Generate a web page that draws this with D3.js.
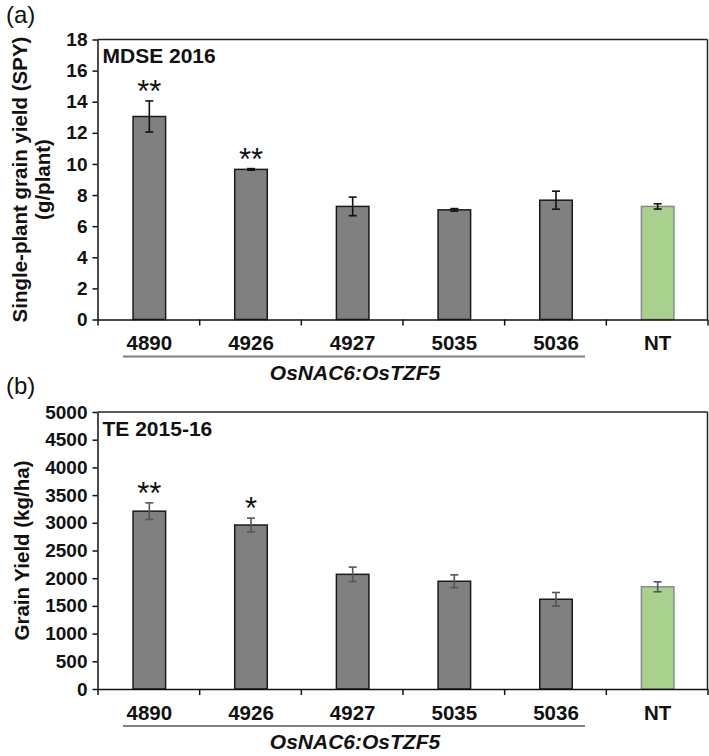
<!DOCTYPE html>
<html>
<head>
<meta charset="utf-8">
<script src="https://cdn.jsdelivr.net/npm/d3@7"></script>
<style>
  html, body { margin: 0; padding: 0; background: #fff; }
  svg { display: block; font-family: "Liberation Sans", Arial, Helvetica, sans-serif; }
</style>
</head>
<body>
<svg id="chart" width="709" height="756"></svg>
<script>
// ---------- data ----------
const categories = ["4890", "4926", "4927", "5035", "5036", "NT"];
const groupLabel = "OsNAC6:OsTZF5";

const spyValues = [13.05, 9.65, 7.27, 7.05, 7.67, 7.27];
const spyErrors = [1.0, 0.05, 0.6, 0.08, 0.58, 0.17];
const spySig = ["**", "**", "", "", "", ""];
const spyTicks = [0, 2, 4, 6, 8, 10, 12, 14, 16, 18];

const gyValues = [3210, 2960, 2070, 1945, 1620, 1845];
const gyErrors = [150, 125, 130, 115, 122, 90];
const gySig = ["**", "*", "", "", "", ""];
const gyTicks = [0, 500, 1000, 1500, 2000, 2500, 3000, 3500, 4000, 4500, 5000];

// ---------- drawing ----------
const svg = d3.select("#chart");
svg.append("rect").attr("width", 709).attr("height", 756).attr("fill", "#fff");

function drawPanel(cfg) {
  const left = 97.5, right = 707.5;
  const g = svg.append("g");
  const x = d3.scaleBand().domain(categories).range([left, right]).paddingInner(0).paddingOuter(0);
  const xi = d3.scaleLinear().domain([0, categories.length]).range([left, right]);
  const y = d3.scaleLinear().domain([0, cfg.max]).range([cfg.bottom, cfg.top]);
  const bw = x.bandwidth() * 0.32;
  const cx = d => x(d) + x.bandwidth() / 2 + 1;

  // frame: top & right
  g.append("line").attr("x1", left).attr("x2", right).attr("y1", cfg.top).attr("y2", cfg.top)
    .attr("stroke", "#222").attr("stroke-width", 1.5);
  g.append("line").attr("x1", right).attr("x2", right).attr("y1", cfg.top).attr("y2", cfg.bottom)
    .attr("stroke", "#222").attr("stroke-width", 1.5);

  // bars
  g.selectAll("rect.bar").data(categories).enter().append("rect")
    .attr("class", "bar")
    .attr("x", d => cx(d) - bw / 2)
    .attr("width", bw)
    .attr("y", (d, i) => y(cfg.values[i]))
    .attr("height", (d, i) => cfg.bottom - y(cfg.values[i]))
    .attr("fill", d => d === "NT" ? "#a9d18e" : "#808080")
    .attr("stroke", d => d === "NT" ? "#8a8a8a" : "#1a1a1a")
    .attr("stroke-width", 1.5);

  // error bars
  const eb = g.selectAll("g.err").data(categories).enter().append("g").attr("class", "err")
    .attr("stroke", cfg.errColor).attr("stroke-width", 1.6);
  eb.append("line")
    .attr("x1", d => cx(d)).attr("x2", d => cx(d))
    .attr("y1", (d, i) => y(cfg.values[i] + cfg.errors[i]))
    .attr("y2", (d, i) => y(cfg.values[i] - cfg.errors[i]));
  eb.append("line")
    .attr("x1", d => cx(d) - 4).attr("x2", d => cx(d) + 4)
    .attr("y1", (d, i) => y(cfg.values[i] + cfg.errors[i]))
    .attr("y2", (d, i) => y(cfg.values[i] + cfg.errors[i]));
  eb.append("line")
    .attr("x1", d => cx(d) - 4).attr("x2", d => cx(d) + 4)
    .attr("y1", (d, i) => y(cfg.values[i] - cfg.errors[i]))
    .attr("y2", (d, i) => y(cfg.values[i] - cfg.errors[i]));

  // significance stars
  g.selectAll("text.sig").data(categories).enter().append("text")
    .attr("class", "sig")
    .attr("x", d => cx(d))
    .attr("y", (d, i) => y(cfg.values[i] + cfg.errors[i]) + 1)
    .attr("text-anchor", "middle")
    .attr("font-size", 31)
    .attr("fill", "#111")
    .text((d, i) => cfg.sig[i]);

  // y axis
  const ya = g.append("g").attr("transform", `translate(${left},0)`)
    .call(d3.axisLeft(y).tickValues(cfg.ticks).tickFormat(d3.format("d"))
      .tickSize(5).tickPadding(5).tickSizeOuter(0));
  ya.select(".domain").attr("stroke", "#111").attr("stroke-width", 1.5);
  ya.selectAll(".tick line").attr("stroke", "#111").attr("stroke-width", 1.5);
  ya.selectAll(".tick text").attr("font-size", 19).attr("font-weight", "bold").attr("fill", "#111")
    .attr("font-family", "'Liberation Sans', Arial, sans-serif");

  // x axis: boundary ticks
  const xa = g.append("g").attr("transform", `translate(0,${cfg.bottom})`)
    .call(d3.axisBottom(xi).tickValues(d3.range(categories.length + 1)).tickFormat("").tickSize(6).tickSizeOuter(0));
  xa.select(".domain").attr("stroke", "#111").attr("stroke-width", 1.5);
  xa.selectAll(".tick line").attr("stroke", "#111").attr("stroke-width", 1.5);

  // category labels
  const xl = g.append("g").attr("transform", `translate(1,${cfg.bottom})`)
    .call(d3.axisBottom(x).tickSize(0).tickPadding(16));
  xl.select(".domain").remove();
  xl.selectAll(".tick text").attr("font-size", 20.5).attr("font-weight", "bold").attr("fill", "#111")
    .attr("font-family", "'Liberation Sans', Arial, sans-serif");

  // group underline + label
  g.append("line").attr("x1", 123).attr("x2", 585)
    .attr("y1", cfg.bottom + 37).attr("y2", cfg.bottom + 37)
    .attr("stroke", "#808080").attr("stroke-width", 2.2);
  g.append("text").attr("x", 355).attr("y", cfg.bottom + 60)
    .attr("text-anchor", "middle").attr("font-size", 21).attr("font-weight", "bold")
    .attr("font-style", "italic").attr("fill", "#111").text(groupLabel);

  // inner title
  g.append("text").attr("x", left + 5).attr("y", cfg.top + 23.5)
    .attr("font-size", 21).attr("font-weight", "bold").attr("fill", "#111").text(cfg.title);

  // y axis title
  const mid = (cfg.top + cfg.bottom) / 2;
  const yt = g.append("text").attr("transform", `translate(0,${mid}) rotate(-90)`)
    .attr("text-anchor", "middle").attr("font-size", 20.5).attr("font-weight", "bold").attr("fill", "#111");
  cfg.yTitle.forEach((line, k) => {
    yt.append("tspan").attr("x", 0).attr("y", cfg.yTitleX[k]).text(line);
  });

  // panel label
  g.append("text").attr("x", 6).attr("y", cfg.panelY)
    .attr("font-size", 24).attr("fill", "#111").text(cfg.panel);
}

drawPanel({
  top: 39.5, bottom: 319.5, max: 18, ticks: spyTicks,
  values: spyValues, errors: spyErrors, sig: spySig, errColor: "#111",
  title: "MDSE 2016", panel: "(a)", panelY: 23,
  yTitle: ["Single-plant grain yield (SPY)", "(g/plant)"], yTitleX: [27, 50]
});

drawPanel({
  top: 412, bottom: 689, max: 5000, ticks: gyTicks,
  values: gyValues, errors: gyErrors, sig: gySig, errColor: "#555",
  title: "TE 2015-16", panel: "(b)", panelY: 394,
  yTitle: ["Grain Yield (kg/ha)"], yTitleX: [29]
});
</script>
</body>
</html>
